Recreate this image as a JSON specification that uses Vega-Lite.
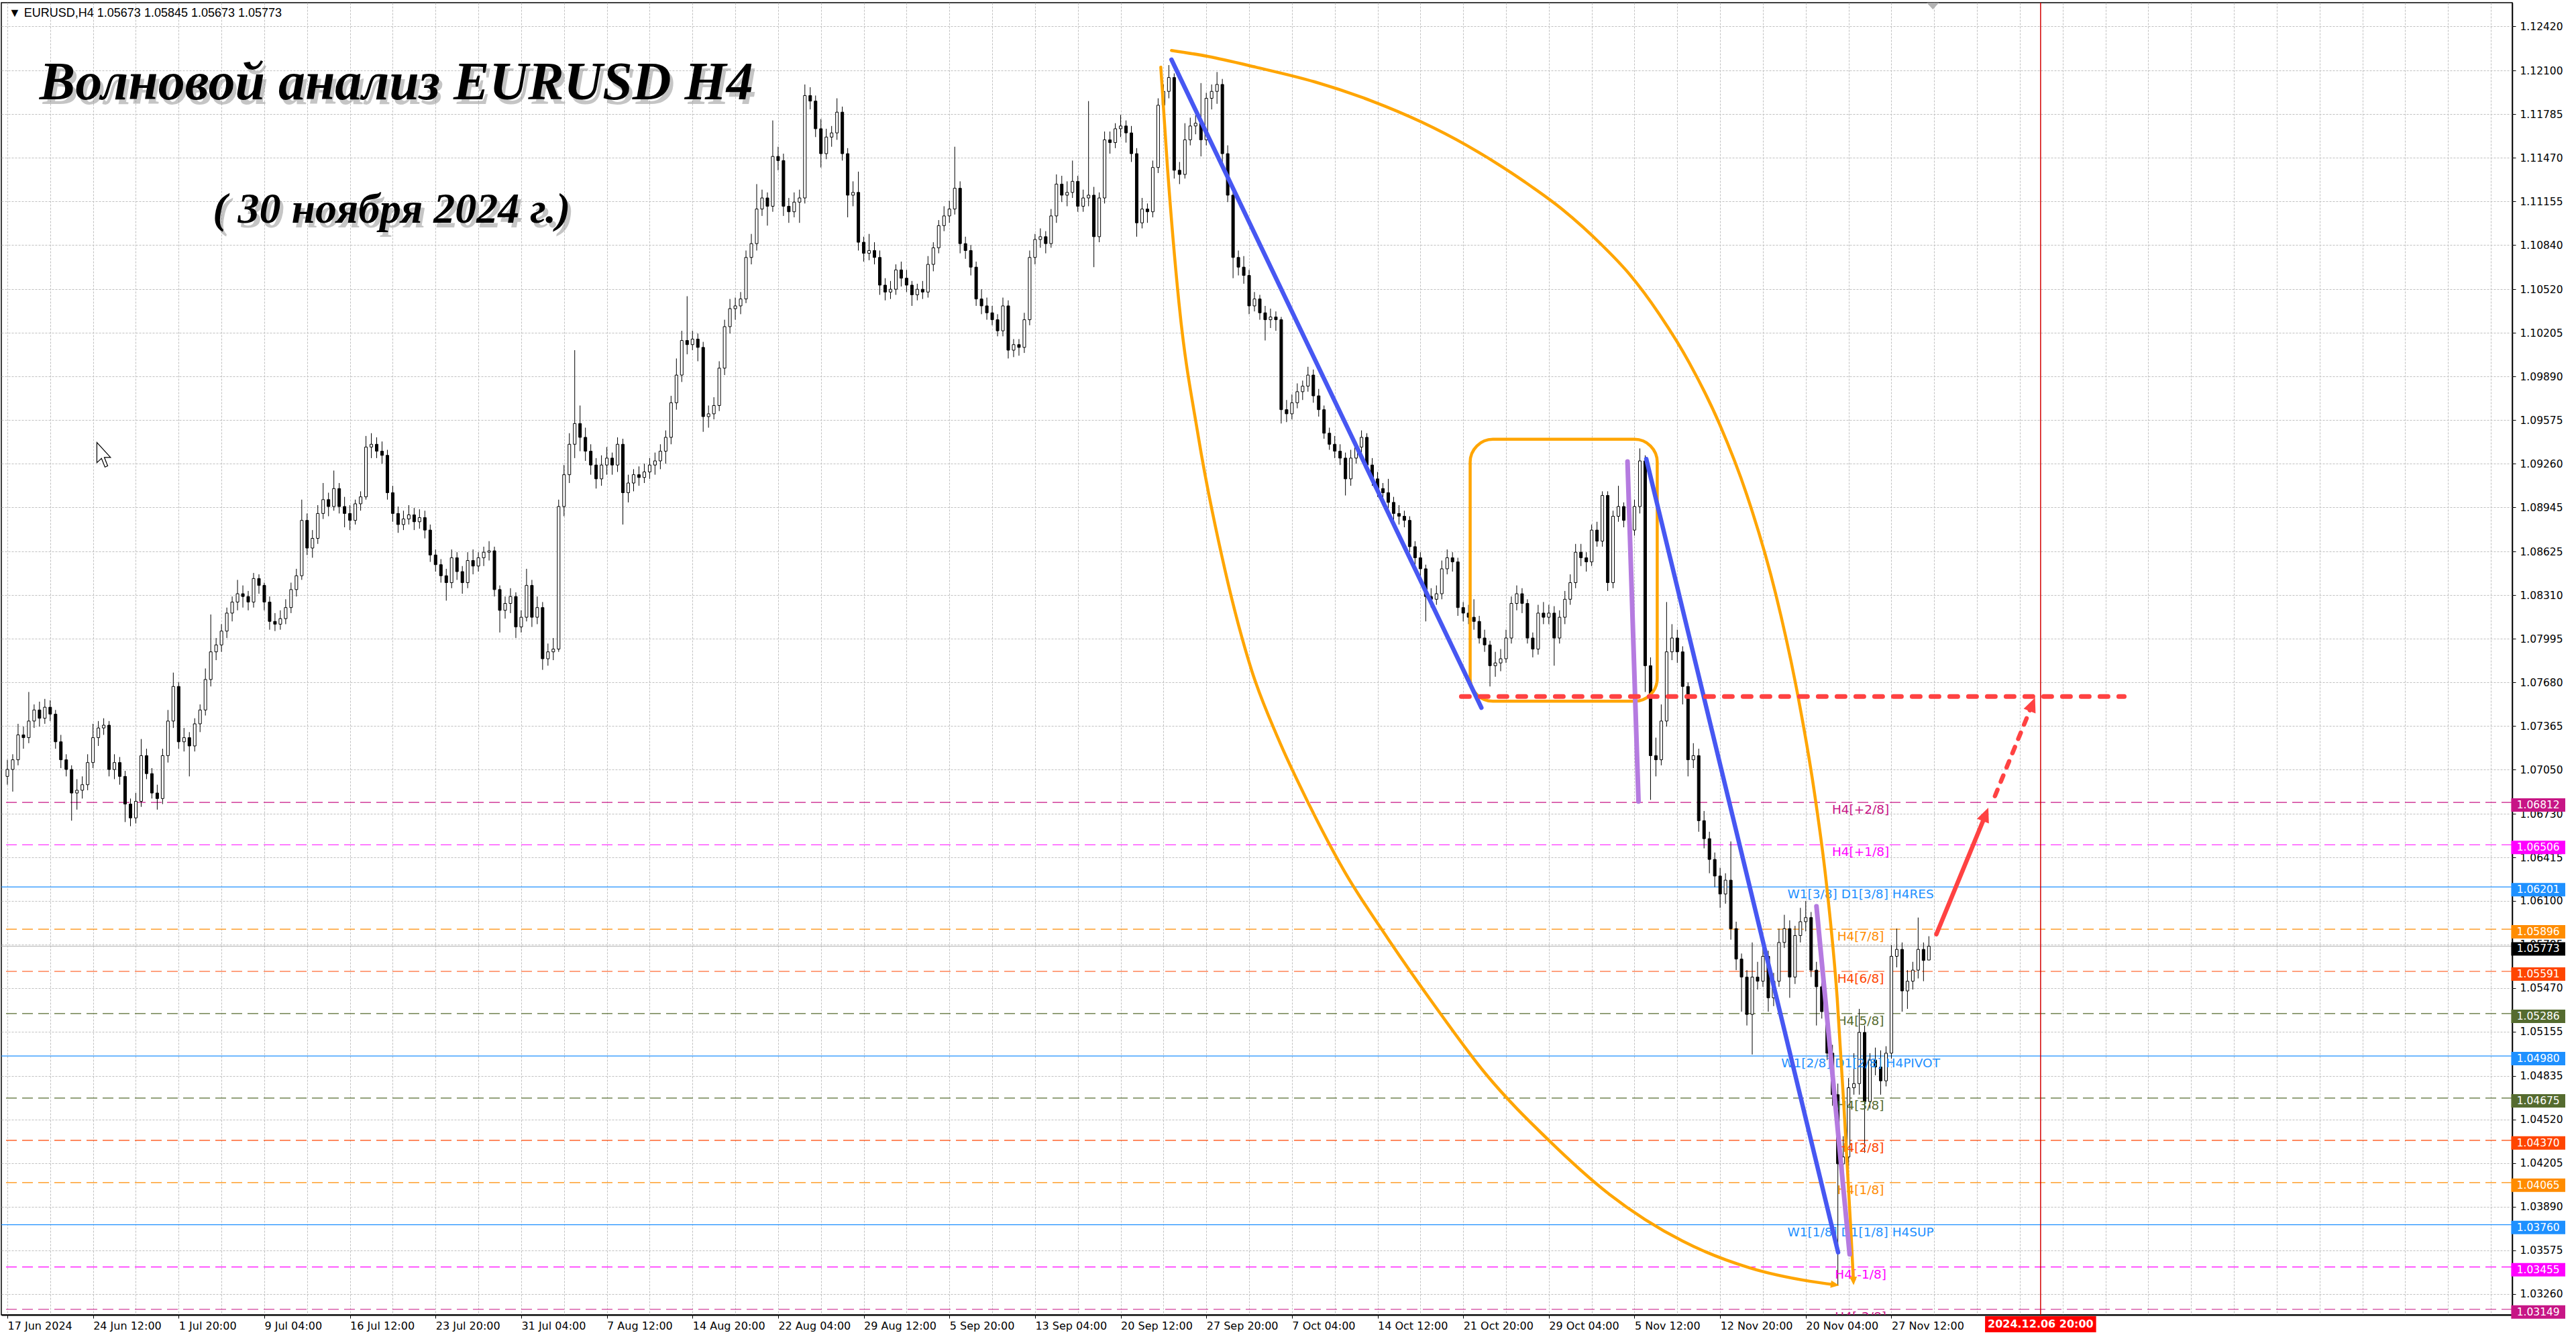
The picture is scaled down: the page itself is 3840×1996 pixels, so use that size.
{
"$schema": "https://vega.github.io/schema/vega-lite/v6.json",
"width": 3743, "height": 1956,
"autosize": {"type": "none"},
"padding": {"left": 2, "top": 4, "right": 95, "bottom": 36},
"background": "#ffffff",
"view": {"stroke": "#000000", "strokeWidth": 1.5},
"config": {"font": "DejaVu Sans"},
"datasets": {
"candles": [
{"i":0,"o":1.0700,"h":1.0712,"l":1.0694,"c":1.0705},{"i":2,"o":1.0705,"h":1.0716,"l":1.0689,"c":1.0712},{"i":4,"o":1.0712,"h":1.0738,"l":1.0708,"c":1.0730},{"i":6,"o":1.0730,"h":1.0736,"l":1.0720,"c":1.0728},{"i":8,"o":1.0728,"h":1.0761,"l":1.0724,"c":1.0740},{"i":10,"o":1.0740,"h":1.0752,"l":1.0735,"c":1.0748},{"i":12,"o":1.0748,"h":1.0754,"l":1.0736,"c":1.0742},{"i":14,"o":1.0742,"h":1.0756,"l":1.0738,"c":1.0750},{"i":16,"o":1.0750,"h":1.0755,"l":1.0740,"c":1.0745},{"i":18,"o":1.0745,"h":1.0748,"l":1.0720,"c":1.0725},
{"i":20,"o":1.0725,"h":1.0730,"l":1.0706,"c":1.0712},{"i":22,"o":1.0712,"h":1.0716,"l":1.0700,"c":1.0705},{"i":24,"o":1.0705,"h":1.0708,"l":1.0668,"c":1.0688},{"i":26,"o":1.0688,"h":1.0698,"l":1.0676,"c":1.0690},{"i":28,"o":1.0690,"h":1.0700,"l":1.0684,"c":1.0694},{"i":30,"o":1.0694,"h":1.0716,"l":1.0690,"c":1.0710},{"i":32,"o":1.0710,"h":1.0738,"l":1.0706,"c":1.0728},{"i":34,"o":1.0728,"h":1.0740,"l":1.0722,"c":1.0735},{"i":36,"o":1.0735,"h":1.0742,"l":1.0730,"c":1.0737},{"i":38,"o":1.0737,"h":1.0740,"l":1.0700,"c":1.0705},
{"i":40,"o":1.0705,"h":1.0716,"l":1.0698,"c":1.0710},{"i":42,"o":1.0710,"h":1.0714,"l":1.0694,"c":1.0700},{"i":44,"o":1.0700,"h":1.0704,"l":1.0667,"c":1.0680},{"i":46,"o":1.0680,"h":1.0684,"l":1.0664,"c":1.0670},{"i":48,"o":1.0670,"h":1.0688,"l":1.0666,"c":1.0682},{"i":50,"o":1.0682,"h":1.0727,"l":1.0678,"c":1.0715},{"i":52,"o":1.0715,"h":1.0720,"l":1.0698,"c":1.0702},{"i":54,"o":1.0702,"h":1.0706,"l":1.0684,"c":1.0688},{"i":56,"o":1.0688,"h":1.0694,"l":1.0676,"c":1.0684},{"i":58,"o":1.0684,"h":1.0720,"l":1.0680,"c":1.0715},
{"i":60,"o":1.0715,"h":1.0748,"l":1.0710,"c":1.0740},{"i":62,"o":1.0740,"h":1.0775,"l":1.0735,"c":1.0765},{"i":64,"o":1.0765,"h":1.0768,"l":1.0720,"c":1.0725},{"i":66,"o":1.0725,"h":1.0735,"l":1.0718,"c":1.0728},{"i":68,"o":1.0728,"h":1.0732,"l":1.0700,"c":1.0722},{"i":70,"o":1.0722,"h":1.0742,"l":1.0718,"c":1.0738},{"i":72,"o":1.0738,"h":1.0752,"l":1.0732,"c":1.0748},{"i":74,"o":1.0748,"h":1.0778,"l":1.0744,"c":1.0770},{"i":76,"o":1.0770,"h":1.0817,"l":1.0765,"c":1.0790},{"i":78,"o":1.0790,"h":1.0800,"l":1.0784,"c":1.0795},
{"i":80,"o":1.0795,"h":1.0810,"l":1.0790,"c":1.0805},{"i":82,"o":1.0805,"h":1.0822,"l":1.0800,"c":1.0818},{"i":84,"o":1.0818,"h":1.0830,"l":1.0812,"c":1.0826},{"i":86,"o":1.0826,"h":1.0842,"l":1.0820,"c":1.0832},{"i":88,"o":1.0832,"h":1.0838,"l":1.0822,"c":1.0830},{"i":90,"o":1.0830,"h":1.0834,"l":1.0820,"c":1.0826},{"i":92,"o":1.0826,"h":1.0847,"l":1.0822,"c":1.0843},{"i":94,"o":1.0843,"h":1.0846,"l":1.0832,"c":1.0838},{"i":96,"o":1.0838,"h":1.0840,"l":1.0820,"c":1.0826},{"i":98,"o":1.0826,"h":1.0830,"l":1.0806,"c":1.0812},
{"i":100,"o":1.0812,"h":1.0818,"l":1.0805,"c":1.0810},{"i":102,"o":1.0810,"h":1.0820,"l":1.0806,"c":1.0814},{"i":104,"o":1.0814,"h":1.0828,"l":1.0810,"c":1.0822},{"i":106,"o":1.0822,"h":1.0840,"l":1.0818,"c":1.0835},{"i":108,"o":1.0835,"h":1.0850,"l":1.0830,"c":1.0845},{"i":110,"o":1.0845,"h":1.0900,"l":1.0842,"c":1.0885},{"i":112,"o":1.0885,"h":1.0890,"l":1.0860,"c":1.0865},{"i":114,"o":1.0865,"h":1.0878,"l":1.0858,"c":1.0872},{"i":116,"o":1.0872,"h":1.0896,"l":1.0868,"c":1.0890},{"i":118,"o":1.0890,"h":1.0912,"l":1.0886,"c":1.0900},
{"i":120,"o":1.0900,"h":1.0905,"l":1.0888,"c":1.0895},{"i":122,"o":1.0895,"h":1.0921,"l":1.0892,"c":1.0908},{"i":124,"o":1.0908,"h":1.0912,"l":1.0890,"c":1.0895},{"i":126,"o":1.0895,"h":1.0902,"l":1.0880,"c":1.0890},{"i":128,"o":1.0890,"h":1.0896,"l":1.0878,"c":1.0885},{"i":130,"o":1.0885,"h":1.0900,"l":1.0882,"c":1.0897},{"i":132,"o":1.0897,"h":1.0906,"l":1.0892,"c":1.0902},{"i":134,"o":1.0902,"h":1.0946,"l":1.0900,"c":1.0938},{"i":136,"o":1.0938,"h":1.0948,"l":1.0930,"c":1.0940},{"i":138,"o":1.0940,"h":1.0945,"l":1.0930,"c":1.0935},
{"i":140,"o":1.0935,"h":1.0942,"l":1.0926,"c":1.0932},{"i":142,"o":1.0932,"h":1.0936,"l":1.0900,"c":1.0905},{"i":144,"o":1.0905,"h":1.0910,"l":1.0884,"c":1.0890},{"i":146,"o":1.0890,"h":1.0895,"l":1.0876,"c":1.0882},{"i":148,"o":1.0882,"h":1.0892,"l":1.0878,"c":1.0886},{"i":150,"o":1.0886,"h":1.0896,"l":1.0882,"c":1.0889},{"i":152,"o":1.0889,"h":1.0894,"l":1.0878,"c":1.0884},{"i":154,"o":1.0884,"h":1.0893,"l":1.0879,"c":1.0887},{"i":156,"o":1.0887,"h":1.0892,"l":1.0872,"c":1.0878},{"i":158,"o":1.0878,"h":1.0882,"l":1.0855,"c":1.0860},
{"i":160,"o":1.0860,"h":1.0864,"l":1.0848,"c":1.0853},{"i":162,"o":1.0853,"h":1.0857,"l":1.0840,"c":1.0845},{"i":164,"o":1.0845,"h":1.0850,"l":1.0827,"c":1.0840},{"i":166,"o":1.0840,"h":1.0864,"l":1.0836,"c":1.0858},{"i":168,"o":1.0858,"h":1.0862,"l":1.0842,"c":1.0848},{"i":170,"o":1.0848,"h":1.0852,"l":1.0832,"c":1.0840},{"i":172,"o":1.0840,"h":1.0862,"l":1.0836,"c":1.0856},{"i":174,"o":1.0856,"h":1.0864,"l":1.0846,"c":1.0852},{"i":176,"o":1.0852,"h":1.0862,"l":1.0848,"c":1.0858},{"i":178,"o":1.0858,"h":1.0866,"l":1.0852,"c":1.0862},
{"i":180,"o":1.0862,"h":1.0870,"l":1.0856,"c":1.0863},{"i":182,"o":1.0863,"h":1.0866,"l":1.0830,"c":1.0835},{"i":184,"o":1.0835,"h":1.0838,"l":1.0804,"c":1.0820},{"i":186,"o":1.0820,"h":1.0830,"l":1.0814,"c":1.0825},{"i":188,"o":1.0825,"h":1.0836,"l":1.0818,"c":1.0830},{"i":190,"o":1.0830,"h":1.0833,"l":1.0800,"c":1.0808},{"i":192,"o":1.0808,"h":1.0820,"l":1.0804,"c":1.0815},{"i":194,"o":1.0815,"h":1.0850,"l":1.0812,"c":1.0838},{"i":196,"o":1.0838,"h":1.0842,"l":1.0808,"c":1.0815},{"i":198,"o":1.0815,"h":1.0830,"l":1.0810,"c":1.0822},
{"i":200,"o":1.0822,"h":1.0826,"l":1.0777,"c":1.0785},{"i":202,"o":1.0785,"h":1.0796,"l":1.0780,"c":1.0790},{"i":204,"o":1.0790,"h":1.0800,"l":1.0784,"c":1.0792},{"i":206,"o":1.0792,"h":1.0900,"l":1.0790,"c":1.0895},{"i":208,"o":1.0895,"h":1.0925,"l":1.0888,"c":1.0918},{"i":210,"o":1.0918,"h":1.0948,"l":1.0912,"c":1.0940},{"i":212,"o":1.0940,"h":1.1008,"l":1.0930,"c":1.0955},{"i":214,"o":1.0955,"h":1.0968,"l":1.0935,"c":1.0945},{"i":216,"o":1.0945,"h":1.0952,"l":1.0928,"c":1.0935},{"i":218,"o":1.0935,"h":1.0940,"l":1.0918,"c":1.0925},
{"i":220,"o":1.0925,"h":1.0930,"l":1.0908,"c":1.0915},{"i":222,"o":1.0915,"h":1.0932,"l":1.0910,"c":1.0925},{"i":224,"o":1.0925,"h":1.0938,"l":1.0918,"c":1.0930},{"i":226,"o":1.0930,"h":1.0934,"l":1.0918,"c":1.0925},{"i":228,"o":1.0925,"h":1.0945,"l":1.0920,"c":1.0940},{"i":230,"o":1.0940,"h":1.0944,"l":1.0882,"c":1.0905},{"i":232,"o":1.0905,"h":1.0918,"l":1.0898,"c":1.0912},{"i":234,"o":1.0912,"h":1.0922,"l":1.0906,"c":1.0918},{"i":236,"o":1.0918,"h":1.0924,"l":1.0910,"c":1.0916},{"i":238,"o":1.0916,"h":1.0926,"l":1.0912,"c":1.0920},
{"i":240,"o":1.0920,"h":1.0930,"l":1.0915,"c":1.0925},{"i":242,"o":1.0925,"h":1.0934,"l":1.0918,"c":1.0928},{"i":244,"o":1.0928,"h":1.0940,"l":1.0922,"c":1.0935},{"i":246,"o":1.0935,"h":1.0950,"l":1.0926,"c":1.0945},{"i":248,"o":1.0945,"h":1.0975,"l":1.0940,"c":1.0970},{"i":250,"o":1.0970,"h":1.1002,"l":1.0965,"c":1.0990},{"i":252,"o":1.0990,"h":1.1022,"l":1.0985,"c":1.1015},{"i":254,"o":1.1015,"h":1.1047,"l":1.1005,"c":1.1012},{"i":256,"o":1.1012,"h":1.1022,"l":1.1008,"c":1.1016},{"i":258,"o":1.1016,"h":1.1020,"l":1.1000,"c":1.1010},
{"i":260,"o":1.1010,"h":1.1014,"l":1.0949,"c":1.0960},{"i":262,"o":1.0960,"h":1.0968,"l":1.0952,"c":1.0962},{"i":264,"o":1.0962,"h":1.0974,"l":1.0958,"c":1.0968},{"i":266,"o":1.0968,"h":1.1000,"l":1.0964,"c":1.0995},{"i":268,"o":1.0995,"h":1.1030,"l":1.0990,"c":1.1025},{"i":270,"o":1.1025,"h":1.1045,"l":1.1020,"c":1.1038},{"i":272,"o":1.1038,"h":1.1046,"l":1.1030,"c":1.1040},{"i":274,"o":1.1040,"h":1.1050,"l":1.1034,"c":1.1045},{"i":276,"o":1.1045,"h":1.1080,"l":1.1042,"c":1.1075},{"i":278,"o":1.1075,"h":1.1092,"l":1.1070,"c":1.1085},
{"i":280,"o":1.1085,"h":1.1128,"l":1.1080,"c":1.1110},{"i":282,"o":1.1110,"h":1.1124,"l":1.1105,"c":1.1118},{"i":284,"o":1.1118,"h":1.1122,"l":1.1098,"c":1.1112},{"i":286,"o":1.1112,"h":1.1174,"l":1.1108,"c":1.1148},{"i":288,"o":1.1148,"h":1.1155,"l":1.1138,"c":1.1145},{"i":290,"o":1.1145,"h":1.1150,"l":1.1105,"c":1.1112},{"i":292,"o":1.1112,"h":1.1118,"l":1.1100,"c":1.1108},{"i":294,"o":1.1108,"h":1.1122,"l":1.1104,"c":1.1115},{"i":296,"o":1.1115,"h":1.1124,"l":1.1100,"c":1.1118},{"i":298,"o":1.1118,"h":1.1200,"l":1.1114,"c":1.1192},
{"i":300,"o":1.1192,"h":1.1198,"l":1.1182,"c":1.1188},{"i":302,"o":1.1188,"h":1.1192,"l":1.1162,"c":1.1168},{"i":304,"o":1.1168,"h":1.1175,"l":1.1140,"c":1.1150},{"i":306,"o":1.1150,"h":1.1168,"l":1.1146,"c":1.1162},{"i":308,"o":1.1162,"h":1.1170,"l":1.1155,"c":1.1165},{"i":310,"o":1.1165,"h":1.1190,"l":1.1160,"c":1.1180},{"i":312,"o":1.1180,"h":1.1184,"l":1.1145,"c":1.1150},{"i":314,"o":1.1150,"h":1.1154,"l":1.1104,"c":1.1120},{"i":316,"o":1.1120,"h":1.1130,"l":1.1112,"c":1.1122},{"i":318,"o":1.1122,"h":1.1137,"l":1.1080,"c":1.1086},
{"i":320,"o":1.1086,"h":1.1090,"l":1.1072,"c":1.1078},{"i":322,"o":1.1078,"h":1.1092,"l":1.1073,"c":1.1080},{"i":324,"o":1.1080,"h":1.1086,"l":1.1070,"c":1.1075},{"i":326,"o":1.1075,"h":1.1080,"l":1.1048,"c":1.1055},{"i":328,"o":1.1055,"h":1.1060,"l":1.1044,"c":1.1050},{"i":330,"o":1.1050,"h":1.1058,"l":1.1045,"c":1.1052},{"i":332,"o":1.1052,"h":1.1070,"l":1.1048,"c":1.1066},{"i":334,"o":1.1066,"h":1.1072,"l":1.1054,"c":1.1060},{"i":336,"o":1.1060,"h":1.1066,"l":1.1050,"c":1.1055},{"i":338,"o":1.1055,"h":1.1058,"l":1.1040,"c":1.1048},
{"i":340,"o":1.1048,"h":1.1056,"l":1.1044,"c":1.1052},{"i":342,"o":1.1052,"h":1.1058,"l":1.1045,"c":1.1050},{"i":344,"o":1.1050,"h":1.1076,"l":1.1046,"c":1.1070},{"i":346,"o":1.1070,"h":1.1086,"l":1.1065,"c":1.1082},{"i":348,"o":1.1082,"h":1.1102,"l":1.1078,"c":1.1098},{"i":350,"o":1.1098,"h":1.1112,"l":1.1094,"c":1.1105},{"i":352,"o":1.1105,"h":1.1116,"l":1.1100,"c":1.1110},{"i":354,"o":1.1110,"h":1.1155,"l":1.1106,"c":1.1125},{"i":356,"o":1.1125,"h":1.1130,"l":1.1078,"c":1.1085},{"i":358,"o":1.1085,"h":1.1090,"l":1.1074,"c":1.1080},
{"i":360,"o":1.1080,"h":1.1084,"l":1.1062,"c":1.1068},{"i":362,"o":1.1068,"h":1.1072,"l":1.1040,"c":1.1045},{"i":364,"o":1.1045,"h":1.1052,"l":1.1034,"c":1.1040},{"i":366,"o":1.1040,"h":1.1046,"l":1.1030,"c":1.1035},{"i":368,"o":1.1035,"h":1.1040,"l":1.1026,"c":1.1030},{"i":370,"o":1.1030,"h":1.1034,"l":1.1018,"c":1.1022},{"i":372,"o":1.1022,"h":1.1046,"l":1.1018,"c":1.1040},{"i":374,"o":1.1040,"h":1.1044,"l":1.1002,"c":1.1008},{"i":376,"o":1.1008,"h":1.1016,"l":1.1003,"c":1.1012},{"i":378,"o":1.1012,"h":1.1016,"l":1.1004,"c":1.1010},
{"i":380,"o":1.1010,"h":1.1035,"l":1.1006,"c":1.1030},{"i":382,"o":1.1030,"h":1.1080,"l":1.1026,"c":1.1075},{"i":384,"o":1.1075,"h":1.1092,"l":1.1070,"c":1.1088},{"i":386,"o":1.1088,"h":1.1096,"l":1.1082,"c":1.1090},{"i":388,"o":1.1090,"h":1.1094,"l":1.1078,"c":1.1085},{"i":390,"o":1.1085,"h":1.1110,"l":1.1082,"c":1.1105},{"i":392,"o":1.1105,"h":1.1135,"l":1.1100,"c":1.1128},{"i":394,"o":1.1128,"h":1.1134,"l":1.1115,"c":1.1120},{"i":396,"o":1.1120,"h":1.1130,"l":1.1112,"c":1.1122},{"i":398,"o":1.1122,"h":1.1145,"l":1.1118,"c":1.1130},
{"i":400,"o":1.1130,"h":1.1134,"l":1.1108,"c":1.1112},{"i":402,"o":1.1112,"h":1.1124,"l":1.1108,"c":1.1118},{"i":404,"o":1.1118,"h":1.1188,"l":1.1112,"c":1.1120},{"i":406,"o":1.1120,"h":1.1126,"l":1.1068,"c":1.1090},{"i":408,"o":1.1090,"h":1.1122,"l":1.1086,"c":1.1118},{"i":410,"o":1.1118,"h":1.1166,"l":1.1114,"c":1.1160},{"i":412,"o":1.1160,"h":1.1166,"l":1.1150,"c":1.1158},{"i":414,"o":1.1158,"h":1.1172,"l":1.1154,"c":1.1168},{"i":416,"o":1.1168,"h":1.1178,"l":1.1162,"c":1.1170},{"i":418,"o":1.1170,"h":1.1174,"l":1.1158,"c":1.1165},
{"i":420,"o":1.1165,"h":1.1170,"l":1.1144,"c":1.1150},{"i":422,"o":1.1150,"h":1.1154,"l":1.1090,"c":1.1100},{"i":424,"o":1.1100,"h":1.1118,"l":1.1096,"c":1.1110},{"i":426,"o":1.1110,"h":1.1114,"l":1.1100,"c":1.1108},{"i":428,"o":1.1108,"h":1.1145,"l":1.1104,"c":1.1140},{"i":430,"o":1.1140,"h":1.1190,"l":1.1136,"c":1.1185},{"i":432,"o":1.1185,"h":1.1200,"l":1.1180,"c":1.1195},{"i":434,"o":1.1195,"h":1.1214,"l":1.1190,"c":1.1205},{"i":436,"o":1.1205,"h":1.1208,"l":1.1132,"c":1.1138},{"i":438,"o":1.1138,"h":1.1144,"l":1.1128,"c":1.1135},
{"i":440,"o":1.1135,"h":1.1172,"l":1.1132,"c":1.1160},{"i":442,"o":1.1160,"h":1.1176,"l":1.1156,"c":1.1170},{"i":444,"o":1.1170,"h":1.1178,"l":1.1164,"c":1.1172},{"i":446,"o":1.1172,"h":1.1201,"l":1.1148,"c":1.1160},{"i":448,"o":1.1160,"h":1.1194,"l":1.1156,"c":1.1190},{"i":450,"o":1.1190,"h":1.1200,"l":1.1182,"c":1.1195},{"i":452,"o":1.1195,"h":1.1209,"l":1.1186,"c":1.1200},{"i":454,"o":1.1200,"h":1.1204,"l":1.1140,"c":1.1150},{"i":456,"o":1.1150,"h":1.1156,"l":1.1115,"c":1.1120},{"i":458,"o":1.1120,"h":1.1124,"l":1.1060,"c":1.1075},
{"i":460,"o":1.1075,"h":1.1080,"l":1.1062,"c":1.1068},{"i":462,"o":1.1068,"h":1.1076,"l":1.1056,"c":1.1062},{"i":464,"o":1.1062,"h":1.1066,"l":1.1034,"c":1.1040},{"i":466,"o":1.1040,"h":1.1050,"l":1.1036,"c":1.1045},{"i":468,"o":1.1045,"h":1.1048,"l":1.1030,"c":1.1035},{"i":470,"o":1.1035,"h":1.1040,"l":1.1015,"c":1.1030},{"i":472,"o":1.1030,"h":1.1038,"l":1.1024,"c":1.1032},{"i":474,"o":1.1032,"h":1.1036,"l":1.1022,"c":1.1030},{"i":476,"o":1.1030,"h":1.1032,"l":1.0955,"c":1.0965},{"i":478,"o":1.0965,"h":1.0972,"l":1.0956,"c":1.0962},
{"i":480,"o":1.0962,"h":1.0976,"l":1.0958,"c":1.0970},{"i":482,"o":1.0970,"h":1.0984,"l":1.0966,"c":1.0978},{"i":484,"o":1.0978,"h":1.0986,"l":1.0972,"c":1.0982},{"i":486,"o":1.0982,"h":1.0996,"l":1.0978,"c":1.0990},{"i":488,"o":1.0990,"h":1.0994,"l":1.0970,"c":1.0975},{"i":490,"o":1.0975,"h":1.0980,"l":1.0960,"c":1.0965},{"i":492,"o":1.0965,"h":1.0968,"l":1.0944,"c":1.0948},{"i":494,"o":1.0948,"h":1.0952,"l":1.0936,"c":1.0940},{"i":496,"o":1.0940,"h":1.0946,"l":1.0930,"c":1.0935},{"i":498,"o":1.0935,"h":1.0940,"l":1.0925,"c":1.0930},
{"i":500,"o":1.0930,"h":1.0934,"l":1.0903,"c":1.0915},{"i":502,"o":1.0915,"h":1.0936,"l":1.0910,"c":1.0930},{"i":504,"o":1.0930,"h":1.0942,"l":1.0926,"c":1.0938},{"i":506,"o":1.0938,"h":1.0950,"l":1.0934,"c":1.0945},{"i":508,"o":1.0945,"h":1.0948,"l":1.0920,"c":1.0925},{"i":510,"o":1.0925,"h":1.0930,"l":1.0910,"c":1.0915},{"i":512,"o":1.0915,"h":1.0920,"l":1.0902,"c":1.0908},{"i":514,"o":1.0908,"h":1.0912,"l":1.0900,"c":1.0905},{"i":516,"o":1.0905,"h":1.0915,"l":1.0893,"c":1.0898},{"i":518,"o":1.0898,"h":1.0902,"l":1.0884,"c":1.0890},
{"i":520,"o":1.0890,"h":1.0896,"l":1.0882,"c":1.0888},{"i":522,"o":1.0888,"h":1.0892,"l":1.0880,"c":1.0885},{"i":524,"o":1.0885,"h":1.0888,"l":1.0862,"c":1.0866},{"i":526,"o":1.0866,"h":1.0870,"l":1.0852,"c":1.0858},{"i":528,"o":1.0858,"h":1.0862,"l":1.0845,"c":1.0850},{"i":530,"o":1.0850,"h":1.0853,"l":1.0812,"c":1.0830},{"i":532,"o":1.0830,"h":1.0836,"l":1.0822,"c":1.0828},{"i":534,"o":1.0828,"h":1.0838,"l":1.0824,"c":1.0832},{"i":536,"o":1.0832,"h":1.0856,"l":1.0828,"c":1.0850},{"i":538,"o":1.0850,"h":1.0864,"l":1.0846,"c":1.0858},
{"i":540,"o":1.0858,"h":1.0862,"l":1.0848,"c":1.0855},{"i":542,"o":1.0855,"h":1.0858,"l":1.0816,"c":1.0822},{"i":544,"o":1.0822,"h":1.0826,"l":1.0812,"c":1.0818},{"i":546,"o":1.0818,"h":1.0824,"l":1.0810,"c":1.0815},{"i":548,"o":1.0815,"h":1.0828,"l":1.0806,"c":1.0812},{"i":550,"o":1.0812,"h":1.0816,"l":1.0796,"c":1.0800},{"i":552,"o":1.0800,"h":1.0806,"l":1.0790,"c":1.0795},{"i":554,"o":1.0795,"h":1.0798,"l":1.0765,"c":1.0780},{"i":556,"o":1.0780,"h":1.0790,"l":1.0772,"c":1.0782},{"i":558,"o":1.0782,"h":1.0792,"l":1.0776,"c":1.0785},
{"i":560,"o":1.0785,"h":1.0806,"l":1.0782,"c":1.0800},{"i":562,"o":1.0800,"h":1.0830,"l":1.0796,"c":1.0825},{"i":564,"o":1.0825,"h":1.0838,"l":1.0820,"c":1.0832},{"i":566,"o":1.0832,"h":1.0836,"l":1.0818,"c":1.0825},{"i":568,"o":1.0825,"h":1.0828,"l":1.0796,"c":1.0800},{"i":570,"o":1.0800,"h":1.0804,"l":1.0786,"c":1.0792},{"i":572,"o":1.0792,"h":1.0824,"l":1.0788,"c":1.0818},{"i":574,"o":1.0818,"h":1.0826,"l":1.0810,"c":1.0815},{"i":576,"o":1.0815,"h":1.0824,"l":1.0810,"c":1.0818},{"i":578,"o":1.0818,"h":1.0823,"l":1.0780,"c":1.0800},
{"i":580,"o":1.0800,"h":1.0820,"l":1.0796,"c":1.0815},{"i":582,"o":1.0815,"h":1.0834,"l":1.0810,"c":1.0828},{"i":584,"o":1.0828,"h":1.0846,"l":1.0824,"c":1.0840},{"i":586,"o":1.0840,"h":1.0868,"l":1.0836,"c":1.0862},{"i":588,"o":1.0862,"h":1.0868,"l":1.0852,"c":1.0858},{"i":590,"o":1.0858,"h":1.0862,"l":1.0848,"c":1.0855},{"i":592,"o":1.0855,"h":1.0882,"l":1.0852,"c":1.0878},{"i":594,"o":1.0878,"h":1.0884,"l":1.0866,"c":1.0870},{"i":596,"o":1.0870,"h":1.0906,"l":1.0866,"c":1.0903},{"i":598,"o":1.0903,"h":1.0906,"l":1.0834,"c":1.0840},
{"i":600,"o":1.0840,"h":1.0892,"l":1.0836,"c":1.0888},{"i":602,"o":1.0888,"h":1.0910,"l":1.0884,"c":1.0895},{"i":604,"o":1.0895,"h":1.0898,"l":1.0880,"c":1.0885},{"i":606,"o":1.0885,"h":1.0890,"l":1.0872,"c":1.0878},{"i":608,"o":1.0878,"h":1.0900,"l":1.0874,"c":1.0895},{"i":610,"o":1.0895,"h":1.0937,"l":1.0890,"c":1.0928},{"i":612,"o":1.0928,"h":1.0932,"l":1.0761,"c":1.0780},{"i":614,"o":1.0780,"h":1.0786,"l":1.0683,"c":1.0715},{"i":616,"o":1.0715,"h":1.0728,"l":1.0700,"c":1.0712},{"i":618,"o":1.0712,"h":1.0752,"l":1.0708,"c":1.0740},
{"i":620,"o":1.0740,"h":1.0826,"l":1.0736,"c":1.0790},{"i":622,"o":1.0790,"h":1.0810,"l":1.0784,"c":1.0800},{"i":624,"o":1.0800,"h":1.0806,"l":1.0782,"c":1.0790},{"i":626,"o":1.0790,"h":1.0794,"l":1.0752,"c":1.0765},{"i":628,"o":1.0765,"h":1.0768,"l":1.0700,"c":1.0712},{"i":630,"o":1.0712,"h":1.0724,"l":1.0706,"c":1.0715},{"i":632,"o":1.0715,"h":1.0720,"l":1.0660,"c":1.0668},{"i":634,"o":1.0668,"h":1.0675,"l":1.0648,"c":1.0655},{"i":636,"o":1.0655,"h":1.0660,"l":1.0630,"c":1.0640},{"i":638,"o":1.0640,"h":1.0645,"l":1.0620,"c":1.0628},
{"i":640,"o":1.0628,"h":1.0634,"l":1.0605,"c":1.0615},{"i":642,"o":1.0615,"h":1.0630,"l":1.0608,"c":1.0625},{"i":644,"o":1.0625,"h":1.0653,"l":1.0582,"c":1.0590},{"i":646,"o":1.0590,"h":1.0595,"l":1.0560,"c":1.0568},{"i":648,"o":1.0568,"h":1.0572,"l":1.0530,"c":1.0555},{"i":650,"o":1.0555,"h":1.0560,"l":1.0520,"c":1.0528},{"i":652,"o":1.0528,"h":1.0580,"l":1.0499,"c":1.0555},{"i":654,"o":1.0555,"h":1.0566,"l":1.0546,"c":1.0552},{"i":656,"o":1.0552,"h":1.0580,"l":1.0548,"c":1.0570},{"i":658,"o":1.0570,"h":1.0574,"l":1.0530,"c":1.0540},
{"i":660,"o":1.0540,"h":1.0558,"l":1.0534,"c":1.0552},{"i":662,"o":1.0552,"h":1.0590,"l":1.0548,"c":1.0580},{"i":664,"o":1.0580,"h":1.0600,"l":1.0576,"c":1.0590},{"i":666,"o":1.0590,"h":1.0596,"l":1.0540,"c":1.0555},{"i":668,"o":1.0555,"h":1.0592,"l":1.0550,"c":1.0585},{"i":670,"o":1.0585,"h":1.0605,"l":1.0580,"c":1.0595},{"i":672,"o":1.0595,"h":1.0610,"l":1.0588,"c":1.0598},{"i":674,"o":1.0598,"h":1.0602,"l":1.0555,"c":1.0560},{"i":676,"o":1.0560,"h":1.0566,"l":1.0520,"c":1.0548},{"i":678,"o":1.0548,"h":1.0552,"l":1.0525,"c":1.0530},
{"i":680,"o":1.0530,"h":1.0536,"l":1.0495,"c":1.0500},{"i":682,"o":1.0500,"h":1.0506,"l":1.0462,"c":1.0470},{"i":684,"o":1.0470,"h":1.0478,"l":1.0332,"c":1.0420},{"i":686,"o":1.0420,"h":1.0440,"l":1.0390,"c":1.0425},{"i":688,"o":1.0425,"h":1.0482,"l":1.0418,"c":1.0475},{"i":690,"o":1.0475,"h":1.0500,"l":1.0470,"c":1.0478},{"i":692,"o":1.0478,"h":1.0532,"l":1.0470,"c":1.0515},{"i":694,"o":1.0515,"h":1.0520,"l":1.0428,"c":1.0465},{"i":696,"o":1.0465,"h":1.0500,"l":1.0460,"c":1.0495},{"i":698,"o":1.0495,"h":1.0504,"l":1.0484,"c":1.0490},
{"i":700,"o":1.0490,"h":1.0502,"l":1.0470,"c":1.0480},{"i":702,"o":1.0480,"h":1.0505,"l":1.0476,"c":1.0500},{"i":704,"o":1.0500,"h":1.0578,"l":1.0496,"c":1.0570},{"i":706,"o":1.0570,"h":1.0590,"l":1.0562,"c":1.0575},{"i":708,"o":1.0575,"h":1.0580,"l":1.0530,"c":1.0545},{"i":710,"o":1.0545,"h":1.0560,"l":1.0532,"c":1.0552},{"i":712,"o":1.0552,"h":1.0566,"l":1.0546,"c":1.0560},{"i":714,"o":1.0560,"h":1.0598,"l":1.0554,"c":1.0575},{"i":716,"o":1.0575,"h":1.0580,"l":1.0552,"c":1.0567},{"i":718,"o":1.05673,"h":1.05845,"l":1.05673,"c":1.05773}
],
"levels": [
{"p":1.06812,"name":"H4[+2/8]","k":"m"},
{"p":1.06506,"name":"H4[+1/8]","k":"m"},
{"p":1.06201,"name":"W1[3/8] D1[3/8] H4RES","k":"p"},
{"p":1.05896,"name":"H4[7/8]","k":"m"},
{"p":1.05773,"name":"Bid","k":"bid"},
{"p":1.05591,"name":"H4[6/8]","k":"m"},
{"p":1.05286,"name":"H4[5/8]","k":"m"},
{"p":1.04980,"name":"W1[2/8] D1[2/8] H4PIVOT","k":"p"},
{"p":1.04675,"name":"H4[3/8]","k":"m"},
{"p":1.04370,"name":"H4[2/8]","k":"m"},
{"p":1.04065,"name":"H4[1/8]","k":"m"},
{"p":1.03760,"name":"W1[1/8] D1[1/8] H4SUP","k":"p"},
{"p":1.03455,"name":"H4[-1/8]","k":"m"},
{"p":1.03149,"name":"H4[-2/8]","k":"m"}
],
"segs": [
{"g":"blue","i1":435,"p1":1.12179,"i2":550.8,"p2":1.07496},
{"g":"blue","i1":612.4,"p1":1.09294,"i2":684.1,"p2":1.0356},
{"g":"purple","i1":605.4,"p1":1.09275,"i2":609.5,"p2":1.06819},
{"g":"purple","i1":676,"p1":1.06061,"i2":688.4,"p2":1.03547},
{"g":"target","i1":543.3,"p1":1.07577,"i2":791,"p2":1.07577},
{"g":"up","i1":720.8,"p1":1.05859,"i2":738.5,"p2":1.0669},
{"g":"updash","i1":742.7,"p1":1.06858,"i2":755.8,"p2":1.0748},
{"g":"now","i1":759.75}
],
"heads": [
{"g":"up","i":739.1,"p":1.0672},
{"g":"updash","i":756.55,"p":1.07515},
{"g":"in","i":682.75,"p":1.03327},
{"g":"out","i":689.8,"p":1.03357}
],
"arcs": [
{"g":"in","i":431,"p":1.12125},{"g":"in","i":433.5,"p":1.11398},{"g":"in","i":437.75,"p":1.10429},{"g":"in","i":445,"p":1.09459},{"g":"in","i":455,"p":1.0849},{"g":"in","i":465,"p":1.07763},{"g":"in","i":474.75,"p":1.07278},{"g":"in","i":486.5,"p":1.06793},{"g":"in","i":499.75,"p":1.06309},{"g":"in","i":516,"p":1.05824},{"g":"in","i":533.5,"p":1.05339},{"g":"in","i":552.25,"p":1.04854},{"g":"in","i":576,"p":1.0437},{"g":"in","i":598.5,"p":1.03982},{"g":"in","i":626,"p":1.03642},{"g":"in","i":651,"p":1.03449},{"g":"in","i":673.5,"p":1.03352},{"g":"in","i":682.75,"p":1.03327},
{"g":"out","i":435,"p":1.12246},{"g":"out","i":448.5,"p":1.12203},{"g":"out","i":466.5,"p":1.12125},{"g":"out","i":488.5,"p":1.12019},{"g":"out","i":509.5,"p":1.11883},{"g":"out","i":528.5,"p":1.11728},{"g":"out","i":545.5,"p":1.11558},{"g":"out","i":567,"p":1.11296},{"g":"out","i":581,"p":1.11098},{"g":"out","i":595.75,"p":1.10841},{"g":"out","i":606,"p":1.10632},{"g":"out","i":617.25,"p":1.10341},{"g":"out","i":628.5,"p":1.09988},{"g":"out","i":639.75,"p":1.09547},{"g":"out","i":650,"p":1.09033},{"g":"out","i":660.75,"p":1.0832},{"g":"out","i":669.25,"p":1.07564},{"g":"out","i":675,"p":1.06914},{"g":"out","i":679.75,"p":1.06221},{"g":"out","i":683.75,"p":1.05397},{"g":"out","i":686.5,"p":1.04534},{"g":"out","i":689,"p":1.03667},{"g":"out","i":689.75,"p":1.03376}
],
"zone": [{"i1":546.6,"i2":616.5,"p1":1.09436,"p2":1.07543}]
},
"layer": [
{
"data": {"name": "levels"},
"transform": [{"filter": "datum.k != 'bid'"}],
"mark": {"type": "rule", "strokeWidth": 1.2},
"encoding": {
"y": {"field": "p", "type": "quantitative", "title": null},
"color": {"field": "name", "type": "nominal", "legend": null,
"scale": {"domain": ["H4[+2/8]","H4[+1/8]","W1[3/8] D1[3/8] H4RES","H4[7/8]","Bid","H4[6/8]","H4[5/8]","W1[2/8] D1[2/8] H4PIVOT","H4[3/8]","H4[2/8]","H4[1/8]","W1[1/8] D1[1/8] H4SUP","H4[-1/8]","H4[-2/8]"],
"range": ["#c71585","#ff00ff","#1e90ff","#ff8c00","#000000","#ff4500","#556b2f","#1e90ff","#556b2f","#ff4500","#ff8c00","#1e90ff","#ff00ff","#c71585"]}},
"strokeDash": {"field": "k", "type": "nominal", "legend": null, "scale": {"domain": ["m","p"], "range": [[16,8],[1,0]]}}
}
},
{
"data": {"name": "levels"},
"transform": [{"filter": "datum.k == 'bid'"}],
"mark": {"type": "rule", "color": "#b4b4b4", "strokeWidth": 1},
"encoding": {"y": {"field": "p", "type": "quantitative", "title": null}}
},
{
"data": {"name": "segs"},
"transform": [{"filter": "datum.g == 'now'"}],
"mark": {"type": "rule", "color": "#d40000", "strokeWidth": 1.5},
"encoding": {"x": {"field": "i1", "type": "quantitative", "title": null}}
},
{
"data": {"name": "candles"},
"mark": {"type": "rule", "color": "#000000", "strokeWidth": 1},
"encoding": {
"x": {"field": "i", "type": "quantitative",
"scale": {"domain": [-1, 934.75], "nice": false, "zero": false},
"axis": {"title": null,
"values": [0,16,32,48,64,80,96,112,128,144,160,176,192,208,224,240,256,272,288,304,320,336,352,368,384,400,416,432,448,464,480,496,512,528,544,560,576,592,608,624,640,656,672,688,704,720,736,752,768,784,800,816,832,848,864,880,896,912,928],
"grid": true, "gridColor": "#c0c0c0", "gridDash": [3,2], "gridWidth": 1,
"domainColor": "#000000", "domainWidth": 2,
"tickColor": {"condition": {"test": "datum.value % 32 === 0 && datum.value <= 704", "value": "#000000"}, "value": "transparent"},
"tickSize": 5, "tickWidth": 1,
"labelExpr": "(datum.value % 32 === 0 && datum.value <= 704) ? ['17 Jun 2024','24 Jun 12:00','1 Jul 20:00','9 Jul 04:00','16 Jul 12:00','23 Jul 20:00','31 Jul 04:00','7 Aug 12:00','14 Aug 20:00','22 Aug 04:00','29 Aug 12:00','5 Sep 20:00','13 Sep 04:00','20 Sep 12:00','27 Sep 20:00','7 Oct 04:00','14 Oct 12:00','21 Oct 20:00','29 Oct 04:00','5 Nov 12:00','12 Nov 20:00','20 Nov 04:00','27 Nov 12:00'][datum.value / 32] : ''",
"labelAlign": "left", "labelBaseline": "top", "labelPadding": 3,
"labelFont": "DejaVu Sans", "labelFontSize": 16, "labelColor": "#000000",
"labelOverlap": false, "labelFlush": false, "labelBound": false}},
"y": {"field": "l", "type": "quantitative",
"scale": {"domain": [1.03109, 1.12591], "nice": false, "zero": false},
"axis": {"title": null, "orient": "right",
"values": [1.1242,1.121,1.11785,1.1147,1.11155,1.1084,1.1052,1.10205,1.0989,1.09575,1.0926,1.08945,1.08625,1.0831,1.07995,1.0768,1.07365,1.0705,1.0673,1.06415,1.061,1.05785,1.0547,1.05155,1.04835,1.0452,1.04205,1.0389,1.03575,1.0326],
"format": ".5f",
"grid": true, "gridColor": "#c0c0c0", "gridDash": [3,2], "gridWidth": 1,
"domainColor": "#000000", "domainWidth": 1.5,
"tickColor": "#000000", "tickSize": 5, "tickWidth": 1,
"labelPadding": 6, "labelFont": "DejaVu Sans", "labelFontSize": 15.5, "labelColor": "#000000",
"labelOverlap": false, "labelBound": false}},
"y2": {"field": "h"}
}
},
{
"data": {"name": "candles"},
"mark": {"type": "bar", "width": 4, "stroke": "#000000", "strokeWidth": 1},
"encoding": {
"x": {"field": "i", "type": "quantitative"},
"y": {"field": "o", "type": "quantitative"},
"y2": {"field": "c"},
"fill": {"condition": {"test": "datum.c >= datum.o", "value": "#ffffff"}, "value": "#000000"}
}
},
{
"data": {"name": "levels"},
"transform": [{"filter": "datum.k != 'bid'"}],
"mark": {"type": "text", "align": "center", "baseline": "top", "dy": 2, "font": "DejaVu Sans", "fontSize": 18.5, "clip": true},
"encoding": {
"x": {"datum": 692.5},
"y": {"field": "p", "type": "quantitative"},
"text": {"field": "name", "type": "nominal"},
"color": {"field": "name", "type": "nominal", "legend": null}
}
},
{
"data": {"name": "zone"},
"mark": {"type": "rect", "filled": false, "stroke": "#ffa500", "strokeWidth": 4.5, "cornerRadius": 34},
"encoding": {
"x": {"field": "i1", "type": "quantitative"}, "x2": {"field": "i2"},
"y": {"field": "p1", "type": "quantitative"}, "y2": {"field": "p2"}
}
},
{
"data": {"name": "arcs"},
"mark": {"type": "line", "color": "#ffa500", "strokeWidth": 4.5, "interpolate": "monotone", "strokeCap": "round"},
"encoding": {
"x": {"field": "i", "type": "quantitative"},
"y": {"field": "p", "type": "quantitative"},
"detail": {"field": "g", "type": "nominal"}
}
},
{
"data": {"name": "heads"},
"transform": [{"filter": "datum.g == 'in'"}],
"mark": {"type": "point", "shape": "M0,-1L0.8,0.8L-0.8,0.8Z", "size": 196, "angle": 98, "filled": true, "color": "#ffa500", "opacity": 1},
"encoding": {"x": {"field": "i", "type": "quantitative"}, "y": {"field": "p", "type": "quantitative"}}
},
{
"data": {"name": "heads"},
"transform": [{"filter": "datum.g == 'out'"}],
"mark": {"type": "point", "shape": "M0,-1L0.8,0.8L-0.8,0.8Z", "size": 196, "angle": 177, "filled": true, "color": "#ffa500", "opacity": 1},
"encoding": {"x": {"field": "i", "type": "quantitative"}, "y": {"field": "p", "type": "quantitative"}}
},
{
"data": {"name": "segs"},
"transform": [{"filter": "datum.g == 'blue'"}],
"mark": {"type": "rule", "color": "#4757f2", "strokeWidth": 6.5, "strokeCap": "round"},
"encoding": {
"x": {"field": "i1", "type": "quantitative"}, "x2": {"field": "i2"},
"y": {"field": "p1", "type": "quantitative"}, "y2": {"field": "p2"}
}
},
{
"data": {"name": "segs"},
"transform": [{"filter": "datum.g == 'purple'"}],
"mark": {"type": "rule", "color": "#b57be0", "strokeWidth": 7, "strokeCap": "round"},
"encoding": {
"x": {"field": "i1", "type": "quantitative"}, "x2": {"field": "i2"},
"y": {"field": "p1", "type": "quantitative"}, "y2": {"field": "p2"}
}
},
{
"data": {"name": "segs"},
"transform": [{"filter": "datum.g == 'target'"}],
"mark": {"type": "rule", "color": "#ff4242", "strokeWidth": 7, "strokeCap": "round", "strokeDash": [12, 16]},
"encoding": {
"x": {"field": "i1", "type": "quantitative"}, "x2": {"field": "i2"},
"y": {"field": "p1", "type": "quantitative"}, "y2": {"field": "p2"}
}
},
{
"data": {"name": "segs"},
"transform": [{"filter": "datum.g == 'up'"}],
"mark": {"type": "rule", "color": "#ff4242", "strokeWidth": 6.5, "strokeCap": "round"},
"encoding": {
"x": {"field": "i1", "type": "quantitative"}, "x2": {"field": "i2"},
"y": {"field": "p1", "type": "quantitative"}, "y2": {"field": "p2"}
}
},
{
"data": {"name": "segs"},
"transform": [{"filter": "datum.g == 'updash'"}],
"mark": {"type": "rule", "color": "#ff4242", "strokeWidth": 6.5, "strokeCap": "round", "strokeDash": [10, 13]},
"encoding": {
"x": {"field": "i1", "type": "quantitative"}, "x2": {"field": "i2"},
"y": {"field": "p1", "type": "quantitative"}, "y2": {"field": "p2"}
}
},
{
"data": {"name": "heads"},
"transform": [{"filter": "datum.g == 'up' || datum.g == 'updash'"}],
"mark": {"type": "point", "shape": "M0,-1L0.8,0.8L-0.8,0.8Z", "size": 576, "angle": 22, "filled": true, "color": "#ff4242", "opacity": 1},
"encoding": {"x": {"field": "i", "type": "quantitative"}, "y": {"field": "p", "type": "quantitative"}}
},
{
"data": {"name": "levels"},
"mark": {"type": "rect", "yOffset": -6, "y2Offset": 14, "clip": false},
"encoding": {
"x": {"datum": 935.6}, "x2": {"datum": 955.8},
"y": {"field": "p", "type": "quantitative"}, "y2": {"field": "p"},
"color": {"field": "name", "type": "nominal", "legend": null}
}
},
{
"data": {"name": "levels"},
"mark": {"type": "text", "align": "center", "baseline": "middle", "yOffset": 4, "font": "DejaVu Sans", "fontSize": 15.5, "color": "#ffffff", "clip": false},
"encoding": {
"x": {"datum": 945.7},
"y": {"field": "p", "type": "quantitative"},
"text": {"field": "p", "type": "quantitative", "format": ".5f"}
}
},
{
"data": {"values": [{}]},
"mark": {"type": "rect", "color": "#ff0000", "yOffset": 2, "y2Offset": 26, "clip": false},
"encoding": {"x": {"datum": 739}, "x2": {"datum": 780.5}, "y": {"datum": 1.03109}, "y2": {"datum": 1.03109}}
},
{
"data": {"values": [{}]},
"mark": {"type": "text", "text": "2024.12.06 20:00", "align": "center", "baseline": "middle", "yOffset": 14, "font": "DejaVu Sans", "fontSize": 16, "fontWeight": "bold", "color": "#ffffff", "clip": false},
"encoding": {"x": {"datum": 759.75}, "y": {"datum": 1.03109}}
},
{
"data": {"values": [{}]},
"mark": {"type": "text", "text": "▼ EURUSD,H4  1.05673 1.05845 1.05673 1.05773", "align": "left", "baseline": "middle", "font": "Liberation Sans", "fontSize": 18, "color": "#000000"},
"encoding": {"x": {"datum": 0.5}, "y": {"datum": 1.12515}}
},
{
"data": {"values": [{}]},
"mark": {"type": "text", "text": "Волновой анализ EURUSD H4", "align": "left", "baseline": "alphabetic", "font": "Liberation Serif", "fontSize": 80, "fontStyle": "italic", "fontWeight": "bold", "color": "#808080", "opacity": 0.45, "dx": 5, "dy": 7},
"encoding": {"x": {"datum": 12}, "y": {"datum": 1.11893}}
},
{
"data": {"values": [{}]},
"mark": {"type": "text", "text": "Волновой анализ EURUSD H4", "align": "left", "baseline": "alphabetic", "font": "Liberation Serif", "fontSize": 80, "fontStyle": "italic", "fontWeight": "bold", "color": "#000000"},
"encoding": {"x": {"datum": 12}, "y": {"datum": 1.11893}}
},
{
"data": {"values": [{}]},
"mark": {"type": "text", "text": "( 30 ноября 2024 г.)", "align": "left", "baseline": "alphabetic", "font": "Liberation Serif", "fontSize": 64, "fontStyle": "italic", "fontWeight": "bold", "color": "#808080", "opacity": 0.45, "dx": 5, "dy": 7},
"encoding": {"x": {"datum": 76.75}, "y": {"datum": 1.11001}}
},
{
"data": {"values": [{}]},
"mark": {"type": "text", "text": "( 30 ноября 2024 г.)", "align": "left", "baseline": "alphabetic", "font": "Liberation Serif", "fontSize": 64, "fontStyle": "italic", "fontWeight": "bold", "color": "#000000"},
"encoding": {"x": {"datum": 76.75}, "y": {"datum": 1.11001}}
},
{
"data": {"values": [{}]},
"mark": {"type": "point", "shape": "M-0.55,-1L-0.55,0.62L-0.18,0.28L0.1,0.98L0.32,0.88L0.05,0.2L0.55,0.2Z", "size": 1369, "filled": true, "fill": "#ffffff", "stroke": "#000000", "strokeWidth": 1.2, "opacity": 1},
"encoding": {"x": {"datum": 36}, "y": {"datum": 1.09323}}
},
{
"data": {"values": [{}]},
"mark": {"type": "point", "shape": "M-1,-0.55L1,-0.55L0,0.55Z", "size": 324, "filled": true, "color": "#b4b4b4", "opacity": 1},
"encoding": {"x": {"datum": 719.5}, "y": {"datum": 1.12566}}
}
]
}
